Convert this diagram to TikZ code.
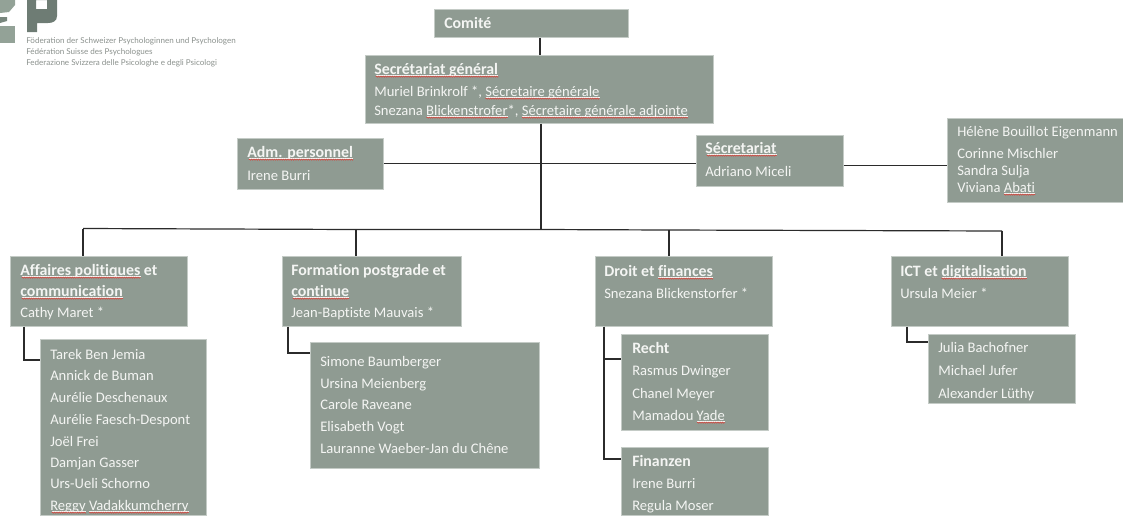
\documentclass[tikz,border=0pt]{standalone}
\usepackage{fontspec}
\setmainfont{Carlito}[Ligatures=CommonOff]
\newfontfamily\logof{Lato}
\usetikzlibrary{calc,decorations.pathmorphing}
\definecolor{boxfill}{HTML}{8F9B92}
\definecolor{boxedge}{HTML}{C4CBC6}
\definecolor{txt}{HTML}{F4F5F3}
\definecolor{logodark}{HTML}{6E7C74}
\definecolor{logolight}{HTML}{93A297}
\definecolor{logotext}{HTML}{8B918D}
\definecolor{linecol}{HTML}{2B2B2B}
\definecolor{squigred}{HTML}{D8443C}
\newcommand\bodyf{\fontsize{10.95}{12}\selectfont}
\newcommand\titlef{\fontsize{11.9}{12}\selectfont\bfseries}
\tikzset{
  orgbox/.style={draw=boxedge,line width=.5pt,fill=boxfill,rectangle,inner sep=0pt,anchor=north west},
  bodytext/.style={anchor=base west,inner sep=0pt,text=txt,font=\bodyf},
  titletext/.style={anchor=base west,inner sep=0pt,text=txt,font=\titlef},
  logotxt/.style={anchor=base west,inner sep=0pt,text=logotext,font=\fontsize{6.04}{7}\selectfont\logof},
  conn/.style={draw=linecol,line width=.9pt},
  wave/.style={draw=squigred,line width=.4pt,decorate,decoration={zigzag,amplitude=.45pt,segment length=1.7pt}},
  ul/.style={draw=txt,line width=.45pt},
  probe/.style={anchor=base west,inner sep=0pt}
}
% #1 name, #2 x1, #3 y1, #4 x2, #5 y2
\newcommand\orgbx[5]{%
  \pgfmathsetmacro\bw{(#4-#2)*0.75}\pgfmathsetmacro\bh{(#5-#3)*0.75}%
  \node[orgbox,minimum width=\bw pt,minimum height=\bh pt] (#1) at (#2,#3) {};}
% #1 name, #2 x, #3 y, #4 text
\newcommand\bl[4]{\node[bodytext] (#1) at (#2,#3) {#4};}
\newcommand\tl[4]{\node[titletext] (#1) at (#2,#3) {#4};}
% #1 font, #2 node, #3 prefix, #4 word: underline and red wave measured by empty probes
\newcommand\mk[4]{%
  \node[probe,font=#1] (mA) at (#2.base west) {\phantom{#3}\hspace{0pt}};
  \node[probe,font=#1] (mB) at (#2.base west) {\phantom{#3#4}\hspace{0pt}};
  \draw[ul] ([yshift=-1.1pt]mA.base east) -- ([yshift=-1.1pt]mB.base east);
  \draw[wave] ([yshift=-2pt]mA.base east) -- ([yshift=-2pt]mB.base east);}
\begin{document}
\begin{tikzpicture}[x=0.75pt,y=-0.75pt]
\useasboundingbox (0,0) rectangle (1123,515);
% logo
\fill[logolight] (0,0) -- (15,0) -- (15,5) -- (9,12) -- (0,13) -- cycle;
\fill[logodark!70!logolight] (0,17) -- (7,17) -- (7,21) -- (0,23) -- cycle;
\fill[logolight] (0,26) -- (15,26) -- (15,43) -- (0,43) -- cycle;
\fill[logodark,even odd rule] (27,0) -- (57,0) -- (57,16) .. controls (57,21) and (53,23) .. (48,23) -- (37,23) -- (37,32) -- (27,32) -- cycle (36,0) -- (47,0) -- (47,9) -- (36,9) -- cycle;
\node[logotxt] (lg1) at (26,43) {Föderation der Schweizer Psychologinnen und Psychologen};
\node[logotxt] (lg2) at (26,54) {Fédération Suisse des Psychologues};
\node[logotxt] (lg3) at (26,65) {Federazione Svizzera delle Psicologhe e degli Psicologi};
% boxes
\orgbx{comite}{434}{9}{628}{37}
\orgbx{secgen}{365}{55}{713}{123}
\orgbx{adm}{237}{138}{383}{189}
\orgbx{secr}{696}{135}{843}{186}
\orgbx{staff}{947}{118}{1123}{202}
\orgbx{pol}{10}{256}{187}{326}
\orgbx{form}{282}{256}{461}{326}
\orgbx{droit}{595}{256}{772}{326}
\orgbx{ict}{891}{256}{1068}{326}
\orgbx{polsub}{40}{339}{206}{515}
\orgbx{formsub}{310}{342}{539}{468}
\orgbx{recht}{621}{334}{768}{430}
\orgbx{fin}{621}{447}{768}{515}
\orgbx{ictsub}{928}{334}{1075}{403}
% bus ends
\coordinate (busL) at (83,228.5);
\coordinate (busR) at (1002,231);
\coordinate (busA) at (356,229.5);
\coordinate (busB) at (669,230);
\coordinate (busT) at (541,229.5);
% connectors
\draw[conn] ($(comite.south west)+(106,0)$) -- ($(secgen.north west)+(175,0)$);
\draw[conn] ($(secgen.south west)+(176,0)$) -- (busT);
\draw[conn] (adm.east) -- (adm.east -| secr.west);
\draw[conn] ($(secr.east)+(0,4.5)$) -- ($(staff.west)+(0,5)$);
\draw[conn] (busL) -- (busA) -- (busT) -- (busB) -- (busR);
\draw[conn] (busL) -- (busL |- pol.north);
\draw[conn] (busA) -- (busA |- form.north);
\draw[conn] (busB) -- (busB |- droit.north);
\draw[conn] (busR) -- (busR |- ict.north);
\draw[conn] ($(pol.south west)+(14,0)$) |- ($(polsub.north west)+(0,21)$);
\draw[conn] ($(form.south west)+(6,0)$) |- ($(formsub.north west)+(0,11)$);
\draw[conn] ($(droit.south west)+(9,0)$) |- ($(recht.north west)+(0,25)$);
\draw[conn] ($(droit.south west)+(9,0)$) |- ($(fin.north west)+(0,12)$);
\draw[conn] ($(ict.south west)+(16,0)$) |- ($(ictsub.north west)+(0,8)$);
% top text
\tl{tcom}{444}{28}{Comité}
\tl{tsg}{374}{74}{Secrétariat général}
\bl{sg1}{374}{96}{Muriel Brinkrolf *, Sécretaire générale}
\bl{sg2}{374}{115}{Snezana Blickenstrofer*, Sécretaire générale adjointe}
\mk{\titlef}{tsg}{}{Secrétariat général}
\mk{\bodyf}{sg1}{Muriel Brinkrolf *, }{Sécretaire générale}
\mk{\bodyf}{sg2}{Snezana }{Blickenstrofer}
\mk{\bodyf}{sg2}{Snezana Blickenstrofer*, }{Sécretaire générale adjointe}
\tl{tadm}{247}{157}{Adm. personnel}
\bl{adm1}{247}{180}{Irene Burri}
\mk{\titlef}{tadm}{}{Adm. personnel}
\tl{tsec}{705}{153}{Sécretariat}
\bl{sec1}{705}{176}{Adriano Miceli}
\mk{\titlef}{tsec}{}{Sécretariat}
\bl{st1}{957}{136}{Hélène Bouillot Eigenmann}
\bl{st2}{957}{158}{Corinne Mischler}
\bl{st3}{957}{175}{Sandra Sulja}
\bl{st4}{957}{192}{Viviana Abati}
\mk{\bodyf}{st4}{Viviana }{Abati}
% departments
\tl{tpol1}{20}{275}{Affaires politiques et}
\tl{tpol2}{20}{296}{communication}
\bl{pol1}{20}{317}{Cathy Maret *}
\mk{\titlef}{tpol1}{}{Affaires politiques}
\mk{\titlef}{tpol2}{}{communication}
\tl{tform1}{291}{275}{Formation postgrade et}
\tl{tform2}{291}{296}{continue}
\bl{form1}{291}{317}{Jean-Baptiste Mauvais *}
\mk{\titlef}{tform2}{}{continue}
\tl{tdr}{604}{276}{Droit et finances}
\bl{dr1}{604}{298}{Snezana Blickenstorfer *}
\mk{\titlef}{tdr}{Droit et }{finances}
\tl{tict}{900}{276}{ICT et digitalisation}
\bl{ict1}{900}{298}{Ursula Meier *}
\mk{\titlef}{tict}{ICT et }{digitalisation}
% sub lists
\bl{p1}{50}{359}{Tarek Ben Jemia}
\bl{p2}{50}{380}{Annick de Buman}
\bl{p3}{50}{402}{Aurélie Deschenaux}
\bl{p4}{50}{424}{Aurélie Faesch-Despont}
\bl{p5}{50}{446}{Joël Frei}
\bl{p6}{50}{467}{Damjan Gasser}
\bl{p7}{50}{488}{Urs-Ueli Schorno}
\bl{p8}{50}{510}{Reggy Vadakkumcherry}
\mk{\bodyf}{p8}{}{Reggy}
\mk{\bodyf}{p8}{Reggy }{Vadakkumcherry}
\bl{f1}{320}{366}{Simone Baumberger}
\bl{f2}{320}{388}{Ursina Meienberg}
\bl{f3}{320}{409}{Carole Raveane}
\bl{f4}{320}{431}{Elisabeth Vogt}
\bl{f5}{320}{453}{Lauranne Waeber-Jan du Chêne}
\tl{trecht}{632}{353}{Recht}
\bl{r1}{632}{375}{Rasmus Dwinger}
\bl{r2}{632}{398}{Chanel Meyer}
\bl{r3}{632}{420}{Mamadou Yade}
\mk{\bodyf}{r3}{Mamadou }{Yade}
\tl{tfin}{632}{466}{Finanzen}
\bl{n1}{632}{488}{Irene Burri}
\bl{n2}{632}{510}{Regula Moser}
\bl{i1}{938}{352}{Julia Bachofner}
\bl{i2}{938}{375}{Michael Jufer}
\bl{i3}{938}{398}{Alexander Lüthy}
\end{tikzpicture}
\end{document}
